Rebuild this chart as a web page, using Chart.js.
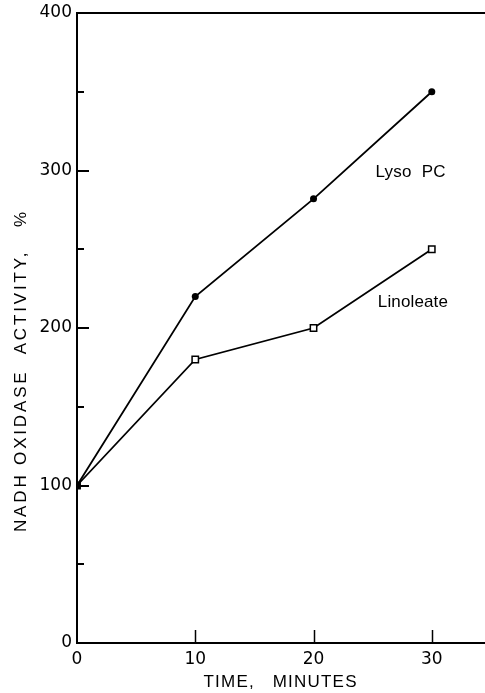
<!DOCTYPE html>
<html>
<head>
<meta charset="utf-8">
<script src="https://cdn.jsdelivr.net/npm/chart.js@4/dist/chart.umd.min.js"></script>
<style>
  html, body { margin: 0; padding: 0; background: #fff; }
  #wrap { width: 485px; height: 693px; }
</style>
</head>
<body>
<div id="wrap"><canvas id="myChart" width="485" height="693"></canvas></div>
<script>
// données
const timeMinutes = [0, 10, 20, 30];
const lysoPC = [100, 220, 282, 350];
const linoleate = [100, 180, 200, 250];
const yTickLabels = [0, 100, 200, 300, 400];
const xTickLabels = [0, 10, 20, 30];

const FONT = '"Liberation Sans", Arial, sans-serif';
const NUMFONT = '"DejaVu Sans", sans-serif';

function toPoints(xs, ys) {
    return xs.map(function(x, i) { return { x: x, y: ys[i] }; });
}

// texte espacé pour tenir une largeur donnée
function spacedText(ctx, text, x, y, width) {
    ctx.letterSpacing = '0px';
    const w = ctx.measureText(text).width;
    const sp = Math.max(0, (width - w) / (text.length - 1));
    ctx.letterSpacing = sp + 'px';
    ctx.fillText(text, x + sp / 2, y);
    ctx.letterSpacing = '0px';
}

// ticks vers l'intérieur, bord du haut, annotations et titres des axes
const decorPlugin = {
    id: 'decor',
    afterDraw: function(chart) {
        const ctx = chart.ctx;
        const area = chart.chartArea;
        const xs = chart.scales.x;
        const ys = chart.scales.y;
        ctx.save();
        ctx.strokeStyle = '#000';
        ctx.lineWidth = 2;

        // bord du haut
        ctx.beginPath();
        ctx.moveTo(area.left - 1, area.top);
        ctx.lineTo(area.right, area.top);
        ctx.stroke();

        // ticks de l'axe y (grands à 100, petits à 50)
        ys.ticks.forEach(function(t) {
            if (t.value <= 0 || t.value >= 400) return;
            const py = Math.round(ys.getPixelForValue(t.value));
            const len = (t.value % 100 === 0) ? 12 : 7;
            ctx.beginPath();
            ctx.moveTo(area.left, py);
            ctx.lineTo(area.left + len, py);
            ctx.stroke();
        });

        // ticks de l'axe x
        ctx.lineWidth = 1.5;
        xs.ticks.forEach(function(t) {
            if (t.value <= 0) return;
            const px = Math.round(xs.getPixelForValue(t.value)) + 0.5;
            ctx.beginPath();
            ctx.moveTo(px, area.bottom);
            ctx.lineTo(px, area.bottom - 13);
            ctx.stroke();
        });

        ctx.fillStyle = '#000';
        ctx.textAlign = 'center';
        ctx.textBaseline = 'middle';

        // étiquettes des courbes
        ctx.font = '17px ' + FONT;
        spacedText(ctx, 'Lyso  PC', xs.getPixelForValue(28.2), ys.getPixelForValue(299), 70);
        spacedText(ctx, 'Linoleate', xs.getPixelForValue(28.4), ys.getPixelForValue(216), 70);

        // titre de l'axe x
        ctx.font = '17px ' + FONT;
        spacedText(ctx, 'TIME,   MINUTES', 280, 682, 153);

        // titre de l'axe y
        ctx.translate(21, 372);
        ctx.rotate(-Math.PI / 2);
        spacedText(ctx, 'NADH OXIDASE  ACTIVITY,   %', 0, 0, 320);
        ctx.restore();
    }
};

const ctx = document.getElementById('myChart').getContext('2d');
new Chart(ctx, {
    type: 'scatter',
    data: {
        datasets: [{
            label: 'Lyso PC',
            data: toPoints(timeMinutes, lysoPC),
            showLine: true,
            borderColor: '#000',
            borderWidth: 1.8,
            pointStyle: 'circle',
            pointRadius: 3.5,
            pointBackgroundColor: '#000',
            pointBorderColor: '#000',
            pointBorderWidth: 0,
            order: 1
        }, {
            label: 'Linoleate',
            data: toPoints(timeMinutes, linoleate),
            showLine: true,
            borderColor: '#000',
            borderWidth: 1.8,
            pointStyle: 'rect',
            pointRadius: 4.5,
            pointBackgroundColor: ['#000', '#fff', '#fff', '#fff'],
            pointBorderColor: '#000',
            pointBorderWidth: 1.5,
            order: 2
        }]
    },
    options: {
        responsive: false,
        animation: false,
        layout: { autoPadding: false, padding: { top: 13, right: 0, left: 0, bottom: 0 } },
        plugins: {
            legend: { display: false },
            tooltip: { enabled: false }
        },
        scales: {
            x: {
                type: 'linear',
                min: 0,
                max: 34.5,
                afterFit: function(scale) {
                    scale.height = 50;
                    scale.paddingLeft = 0;
                    scale.paddingRight = 0;
                },
                border: { display: true, color: '#000', width: 2 },
                grid: { display: false, drawTicks: false },
                ticks: {
                    stepSize: 10,
                    includeBounds: false,
                    autoSkip: false,
                    maxRotation: 0,
                    padding: 6,
                    color: '#000',
                    font: { family: NUMFONT, size: 17 },
                    callback: function(v) { return xTickLabels.indexOf(v) >= 0 ? String(v) : ''; }
                }
            },
            y: {
                type: 'linear',
                min: 0,
                max: 400,
                afterFit: function(scale) {
                    scale.width = 77;
                    scale.paddingTop = 0;
                    scale.paddingBottom = 0;
                },
                border: { display: true, color: '#000', width: 2 },
                grid: { display: false, drawTicks: false },
                ticks: {
                    stepSize: 50,
                    autoSkip: false,
                    padding: 5,
                    color: '#000',
                    font: { family: NUMFONT, size: 17 },
                    callback: function(v) { return yTickLabels.indexOf(v) >= 0 ? String(v) : ''; }
                }
            }
        }
    },
    plugins: [decorPlugin]
});
</script>
</body>
</html>
